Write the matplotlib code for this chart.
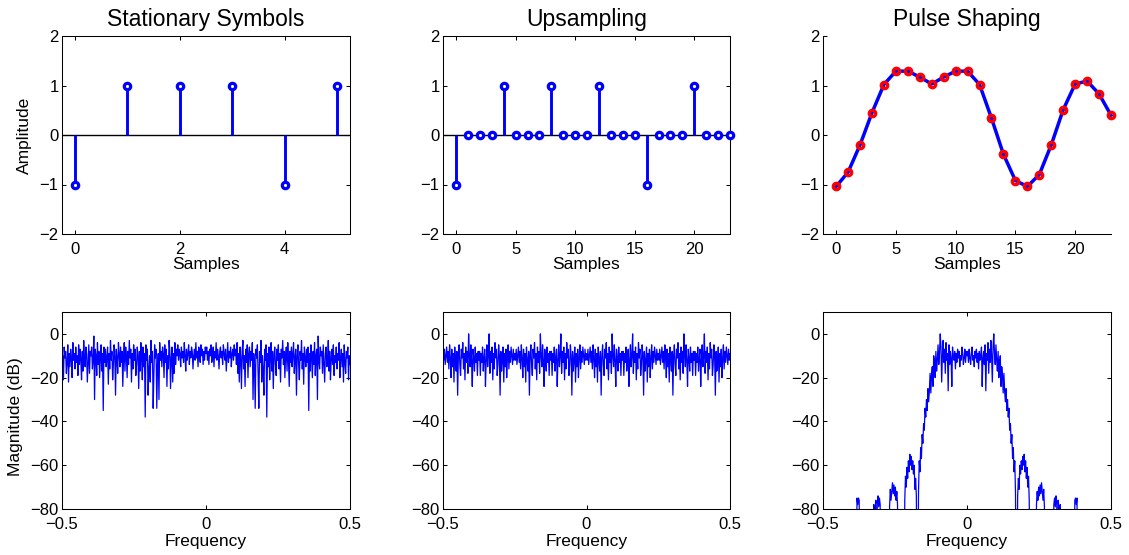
import numpy as np
import matplotlib
matplotlib.use("Agg")
import matplotlib.pyplot as plt

plt.rcParams['font.family'] = ['Liberation Sans', 'DejaVu Sans']

# ---- time-domain data -------------------------------------------------
symbols = [-1, 1, 1, 1, -1, 1]
upsampled = [-1, 0, 0, 0, 1, 0, 0, 0, 1, 0, 0, 0, 1, 0, 0, 0,
             -1, 0, 0, 0, 1, 0, 0, 0]
shaped = [-1.04, -0.75, -0.20, 0.45, 1.02, 1.29, 1.29, 1.17, 1.03, 1.17,
          1.29, 1.29, 1.02, 0.34, -0.39, -0.92, -1.04, -0.80, -0.20, 0.51,
          1.03, 1.09, 0.83, 0.40]

# ---- spectra (dB); spectra of real signals are even in frequency ------
# symbol spectrum, positive half band 0 .. 0.5
spec_symbols_half = [
    -9, -6, -12, -8, -14, -7, -10, -5, -13, -9, -6, -15, -8, -11, -4, -12, -7, -10, -16, -8,
    -6, -11, -8, -14, -5, -9, -12, -7, -17, -10, -4, -13, -8, -11, -6, -15, -9, -7, -12, -5,
    -10, -7, -14, -4, -18, -9, -22, -6, -11, -25, -8, -3, -16, -10, -24, -7, -13, -5, -20, -9,
    -6, -15, -8, -12, -4, -30, -9, -14, -34, -7, -11, -5, -18, -34, -8, -13, -3, -22, -10, -16,
    -28, -7, -12, -5, -38, -9, -15, -6, -21, -11, -4, -17, -8, -25, -10, -6, -14, -19, -7, -12,
    -5, -16, -9, -22, -7, -11, -3, -14, -8, -20, -10, -6, -17, -4, -12, -24, -8, -13, -6, -15,
    -9, -4, -18, -11, -7, -28, -10, -5, -14, -21, -8, -12, -3, -16, -9, -23, -6, -11, -15, -7,
    -13, -6, -35, -9, -17, -5, -11, -20, -8, -14, -4, -19, -10, -7, -30, -1, -12, -16, -6, -10,
    -8, -18, -5, -13, -22, -9, -6, -15, -11, -3, -17, -8, -21, -12, -7, -14, -5, -19, -10, -13,
    -6, -16, -9, -12, -4, -20, -11, -7, -15, -9, -22, -5, -13, -18, -8, -11, -6, -21, -10, -14,
]

# upsampled spectrum, half of one image period 0 .. 0.125
spec_upsampled_half = [
    -9, -12, -7, -14, -10, -6, -13, -8, -16, -5,
    -11, -20, -7, -15, -9, -22, -6, -12, -17, -8,
    -28, -10, -5, -14, -19, -7, -11, -4, -16, -9,
    -21, -6, -13, -8, -18, 0, -10, -15, -5, -12,
    -24, -7, -11, -17, -6, -13, -9, -19, -8, -12,
]

# pulse-shaped spectrum, positive half band 0 .. 0.5 (F = below the plot floor)
F = -120
spec_shaped_half = [
    -10, -8, -13, -7, -11, -14, -9, -6, -12, -10, -15, -8, -11, -7, -13, -9, -16, -8, -12, -10,
    -6, -24, -11, -8, -14, -5, -26, -9, -12, -4, -18, -7, -13, -3, -10, -22, -6, 0, -9, -14,
    -5, -12, -17, -8, -20, -13, -10, -24, -15, -19, -27, -18, -26, -31, -25, -35, -30, -38, -34, -44,
    -41, -50, -46, -57, -52, -63, -58, -72, F, F, -74, -66, -71, -60, -64, -58, -62, -56, -60, -55,
    -63, -58, -66, -61, -70, -65, -76, F, F, F, F, F, F, F, F, F, -78, -72, -76, -70,
    -74, -69, -73, -68, -72, -76, -71, -79, F, F, F, F, F, F, F, F, F, F, F, F,
    -78, -75, -79, -74, -77, F, -76, -79, F, -78, F, F, F, F, F, F, F, F, F, F,
    F, F, F, F, F, F, F, F, F, -76, -75, -78, -75, F, F, F, F, F, F, F,
    F, F, F, F, F, F, F, F, F, F, F, F, F, F, F, F, F, F, F, F,
    F, F, F, F, F, F, F, F, F, F, F, F, F, F, F, F, F, F, F, F,
]

freq_ticks = [-0.5, 0, 0.5]
freq_ticklabels = ['\u22120.5', '0', '0.5']


def even_spectrum(half):
    half = np.asarray(half, dtype=float)
    f = np.linspace(0, 0.5, len(half))
    return (np.concatenate([-f[::-1], f[1:]]),
            np.concatenate([half[::-1], half[1:]]))


def image_spectrum(half, period=0.25):
    half = np.asarray(half, dtype=float)
    one = np.concatenate([half, half[::-1][1:]])
    f_one = np.linspace(0, period, len(one))
    xs, ys = [], []
    for k in range(-2, 2):
        xs.append(f_one[:-1] + k * period)
        ys.append(one[:-1])
    xs.append([0.5])
    ys.append([one[-1]])
    return np.concatenate(xs), np.concatenate(ys)


BLUE = (0, 0, 1)
RED = (1, 0, 0)

fig = plt.figure(figsize=(11.29, 5.55), dpi=100)

W, H = 1129, 555
cols = [(62, 350), (443, 730), (823, 1111)]
top_row = (36, 234)
bot_row = (312, 509)


def make_axes(col, row):
    l, r = col
    t, b = row
    return fig.add_axes([l / W, 1 - b / H, (r - l) / W, (b - t) / H])


def style(ax, box=True):
    for s in ax.spines.values():
        s.set_linewidth(0.75)
    if not box:
        ax.spines['top'].set_visible(False)
        ax.spines['right'].set_visible(False)
    ax.tick_params(direction='in', length=3, width=0.75, labelsize=12,
                   top=box, right=box)
    ax.tick_params(axis='x', pad=6)
    ax.tick_params(axis='y', pad=2.5)


def stem_plot(ax, y):
    x = np.arange(len(y))
    y = np.asarray(y)
    ax.axhline(0, color='k', lw=1, zorder=1)
    ax.vlines(x, 0, y, color=BLUE, lw=2.1, zorder=2)
    ax.plot(x, y, 'o', color=BLUE, ms=4.6, mew=2.3, mfc='white', zorder=3,
            clip_on=False)


# top row
ax1 = make_axes(cols[0], top_row)
stem_plot(ax1, symbols)
ax1.set_xlim(-0.25, 5.25)
ax1.set_xticks([0, 2, 4])
ax1.set_title('Stationary Symbols', fontsize=16.5, pad=7)
ax1.set_ylabel('Amplitude', fontsize=12.5)

ax2 = make_axes(cols[1], top_row)
stem_plot(ax2, upsampled)
ax2.set_xlim(-1.1, 23)
ax2.set_xticks([0, 5, 10, 15, 20])
ax2.set_title('Upsampling', fontsize=16.5, pad=7)

ax3 = make_axes(cols[2], top_row)
n3 = np.arange(len(shaped))
ax3.plot(n3, shaped, '-', color=BLUE, lw=2.5, zorder=2, clip_on=False)
ax3.plot(n3, shaped, 'o', color=RED, ms=4.6, mew=2.4, mfc='none', zorder=3,
         clip_on=False)
ax3.set_xlim(-1.1, 23)
ax3.set_xticks([0, 5, 10, 15, 20])
ax3.set_title('Pulse Shaping', fontsize=16.5, pad=7)

for ax, box in zip((ax1, ax2, ax3), (True, True, False)):
    ax.set_ylim(-2, 2)
    ax.set_yticks([-2, -1, 0, 1, 2])
    ax.set_xlabel('Samples', fontsize=12.5, labelpad=0)
    style(ax, box)

ax1.yaxis.set_label_coords(-0.104, 0.5)

# bottom row
spectra = [even_spectrum(spec_symbols_half),
           image_spectrum(spec_upsampled_half),
           even_spectrum(spec_shaped_half)]
for i, (fx, fy) in enumerate(spectra):
    ax = make_axes(cols[i], bot_row)
    ax.plot(fx, fy, color=BLUE, lw=0.9)
    ax.set_xlim(-0.5, 0.5)
    ax.set_ylim(-80, 10)
    ax.set_xticks(freq_ticks)
    ax.set_xticklabels(freq_ticklabels)
    ax.set_yticks([-80, -60, -40, -20, 0])
    ax.set_xlabel('Frequency', fontsize=12.5, labelpad=1)
    style(ax, True)
    if i == 0:
        ax.set_ylabel('Magnitude (dB)', fontsize=12.5)
        ax.yaxis.set_label_coords(-0.135, 0.47)

fig.savefig('out.png', dpi=100)
